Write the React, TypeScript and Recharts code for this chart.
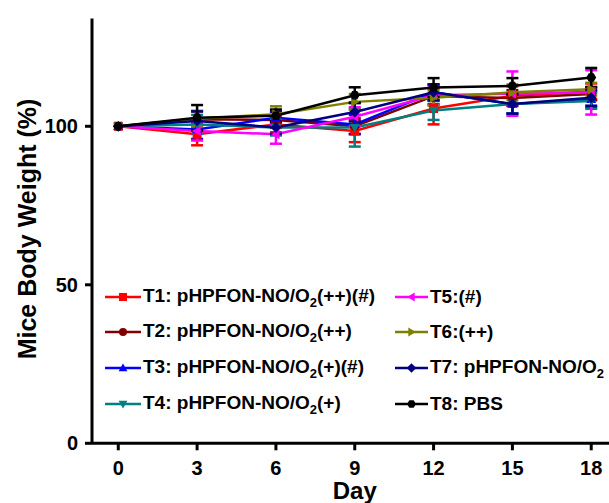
import React from 'react';
import { LineChart, Line, XAxis, YAxis, ErrorBar, Legend } from 'recharts';

const FONT = '"Liberation Sans", Arial, sans-serif';

const days = [0, 3, 6, 9, 12, 15, 18];
const yTicks = [0, 50, 100];

const t1 = [100, 97.5, 100.6, 98.5, 105.6, 109.6, 111];
const t2 = [100, 102.2, 102, 100, 109.5, 108.9, 110.2];
const t3 = [100, 99, 102.7, 100.6, 110.7, 107, 108.5];
const t4 = [100, 100.6, 99.6, 99.6, 105, 107, 108];
const t5 = [100, 98.5, 97.5, 103, 109.8, 110.3, 110.7];
const t6 = [100, 102.4, 103.8, 107.7, 109, 110.7, 111.7];
const t7 = [100, 101.7, 99.6, 104.5, 110.7, 107, 109];
const t8 = [100, 102.7, 103.3, 109.8, 112.2, 112.7, 115.4];

const t1Err = [0, 3.5, 2.5, 3.5, 5, 3, 2.5];
const t2Err = [0, 2.5, 2.5, 2.5, 2.5, 2.5, 2];
const t3Err = [0, 3, 2, 3, 2.5, 3, 2.5];
const t4Err = [0, 3, 2.5, 6, 3, 3, 2.5];
const t5Err = [0, 3, 3, 3, 3, 7, 7];
const t6Err = [0, 2.5, 2.5, 2.5, 2.5, 2.5, 2];
const t7Err = [0, 3, 2, 3, 2.5, 3, 2.5];
const t8Err = [0, 4, 2, 2.5, 3, 2.5, 3];

const seriesNames = [
  'T1: pHPFON-NO/O2(++)(#)',
  'T2: pHPFON-NO/O2(++)',
  'T3: pHPFON-NO/O2(+)(#)',
  'T4: pHPFON-NO/O2(+)',
  'T5:(#)',
  'T6:(++)',
  'T7: pHPFON-NO/O2',
  'T8: PBS',
];

const series = [
  { key: 't1', values: t1, err: t1Err, color: '#FF0000', shape: 'square' },
  { key: 't2', values: t2, err: t2Err, color: '#800000', shape: 'circle' },
  { key: 't3', values: t3, err: t3Err, color: '#0000FF', shape: 'up' },
  { key: 't4', values: t4, err: t4Err, color: '#008080', shape: 'down' },
  { key: 't5', values: t5, err: t5Err, color: '#FF00FF', shape: 'left' },
  { key: 't6', values: t6, err: t6Err, color: '#808000', shape: 'right' },
  { key: 't7', values: t7, err: t7Err, color: '#000080', shape: 'diamond' },
  { key: 't8', values: t8, err: t8Err, color: '#000000', shape: 'hexagon' },
].map((s, i) => ({ ...s, name: seriesNames[i] }));

const data = days.map((day, i) => {
  const row: Record<string, number> = { day };
  series.forEach((s) => {
    row[s.key] = s.values[i];
    row[s.key + 'Err'] = s.err[i];
  });
  return row;
});

const Marker = ({ cx, cy, shape, color, r = 4.5 }: any) => {
  if (cx == null || cy == null) return null;
  const pts = (list: number[][]) => list.map(([x, y]) => `${cx + x},${cy + y}`).join(' ');
  switch (shape) {
    case 'square':
      return <rect x={cx - r} y={cy - r} width={2 * r} height={2 * r} fill={color} />;
    case 'circle':
      return <circle cx={cx} cy={cy} r={r} fill={color} />;
    case 'up':
      return <polygon points={pts([[0, -r * 1.1], [r * 1.1, r * 0.8], [-r * 1.1, r * 0.8]])} fill={color} />;
    case 'down':
      return <polygon points={pts([[0, r * 1.1], [r * 1.1, -r * 0.8], [-r * 1.1, -r * 0.8]])} fill={color} />;
    case 'left':
      return <polygon points={pts([[-r * 1.1, 0], [r * 0.8, -r * 1.1], [r * 0.8, r * 1.1]])} fill={color} />;
    case 'right':
      return <polygon points={pts([[r * 1.1, 0], [-r * 0.8, -r * 1.1], [-r * 0.8, r * 1.1]])} fill={color} />;
    case 'diamond':
      return <polygon points={pts([[0, -r * 1.2], [r * 1.2, 0], [0, r * 1.2], [-r * 1.2, 0]])} fill={color} />;
    default: {
      const hex = [0, 1, 2, 3, 4, 5].map((k) => {
        const a = (Math.PI / 3) * k;
        return [r * 1.1 * Math.cos(a), r * 1.1 * Math.sin(a)];
      });
      return <polygon points={pts(hex)} fill={color} />;
    }
  }
};

const withSub = (text: string) => {
  const idx = text.indexOf('O2');
  if (idx < 0) return text;
  return (
    <>
      {text.slice(0, idx + 1)}
      <sub style={{ fontSize: 13, verticalAlign: -5 }}>2</sub>
      {text.slice(idx + 2)}
    </>
  );
};

const LegendBox = () => {
  const cols = [
    { left: 105, lineW: 36 },
    { left: 395, lineW: 33 },
  ];
  const rowTops = [297, 332, 368, 404];
  return (
    <div style={{ position: 'relative', width: 640, height: 503 }}>
      {series.map((s, i) => {
        const col = cols[Math.floor(i / 4)];
        const cy = rowTops[i % 4];
        return (
          <div
            key={s.key}
            style={{
              position: 'absolute',
              left: col.left,
              top: cy - 12,
              height: 24,
              display: 'flex',
              alignItems: 'center',
              whiteSpace: 'nowrap',
              fontFamily: FONT,
              fontWeight: 'bold',
              fontSize: 19,
              color: '#000',
            }}
          >
            <svg width={col.lineW} height={16} style={{ marginRight: 2 }}>
              <line x1={0} y1={8} x2={col.lineW} y2={8} stroke={s.color} strokeWidth={2.5} />
              <Marker cx={col.lineW / 2} cy={8} shape={s.shape} color={s.color} r={4} />
            </svg>
            <span>{withSub(s.name)}</span>
          </div>
        );
      })}
    </div>
  );
};

const tickStyle = { fill: '#000', fontSize: 20, fontWeight: 'bold', fontFamily: FONT };
const axisLine = { stroke: '#000', strokeWidth: 3 };

export default function App() {
  return (
    <div style={{ position: 'fixed', left: 0, top: 0, width: 609, height: 503, overflow: 'hidden', background: '#fff' }}>
      <LineChart width={640} height={503} data={data} margin={{ top: 18.5, right: 22.5, bottom: 19.7, left: 32 }}>
        <XAxis
          xAxisId="top"
          orientation="top"
          type="number"
          dataKey="day"
          domain={[-1, 19]}
          height={0}
          tick={false}
          tickLine={false}
          axisLine={axisLine}
        />
        <XAxis
          type="number"
          dataKey="day"
          domain={[-1, 19]}
          ticks={days}
          allowDataOverflow
          height={40}
          tickSize={7}
          tickMargin={10}
          tick={tickStyle}
          tickLine={axisLine}
          axisLine={axisLine}
          label={({ viewBox }: any) => (
            <text
              x={viewBox.x + viewBox.width / 2}
              y={499}
              textAnchor="middle"
              fontFamily={FONT}
              fontWeight="bold"
              fontSize={24}
              fill="#000"
            >
              Day
            </text>
          )}
        />
        <YAxis
          type="number"
          domain={[0, 134]}
          ticks={yTicks}
          allowDataOverflow
          width={60}
          tickSize={7}
          tickMargin={7}
          tick={tickStyle}
          tickLine={axisLine}
          axisLine={axisLine}
          label={() => (
            <text
              x={27}
              y={229}
              transform="rotate(-90, 27, 229)"
              textAnchor="middle"
              dominantBaseline="central"
              fontFamily={FONT}
              fontWeight="bold"
              fontSize={25}
              fill="#000"
            >
              Mice Body Weight (%)
            </text>
          )}
        />
        {series.map((s) => (
          <Line
            key={s.key}
            dataKey={s.key}
            name={s.name}
            stroke={s.color}
            strokeWidth={2.5}
            isAnimationActive={false}
            dot={(p: any) => <Marker key={`${s.key}-${p.index}`} cx={p.cx} cy={p.cy} shape={s.shape} color={s.color} />}
            activeDot={false}
          >
            <ErrorBar dataKey={s.key + 'Err'} direction="y" width={6} stroke={s.color} strokeWidth={2.5} />
          </Line>
        ))}
        <Legend
          layout="horizontal"
          verticalAlign="middle"
          align="center"
          wrapperStyle={{ position: 'absolute', left: 0, top: 0, width: 640, height: 503, pointerEvents: 'none' }}
          content={() => <LegendBox />}
        />
      </LineChart>
    </div>
  );
}
